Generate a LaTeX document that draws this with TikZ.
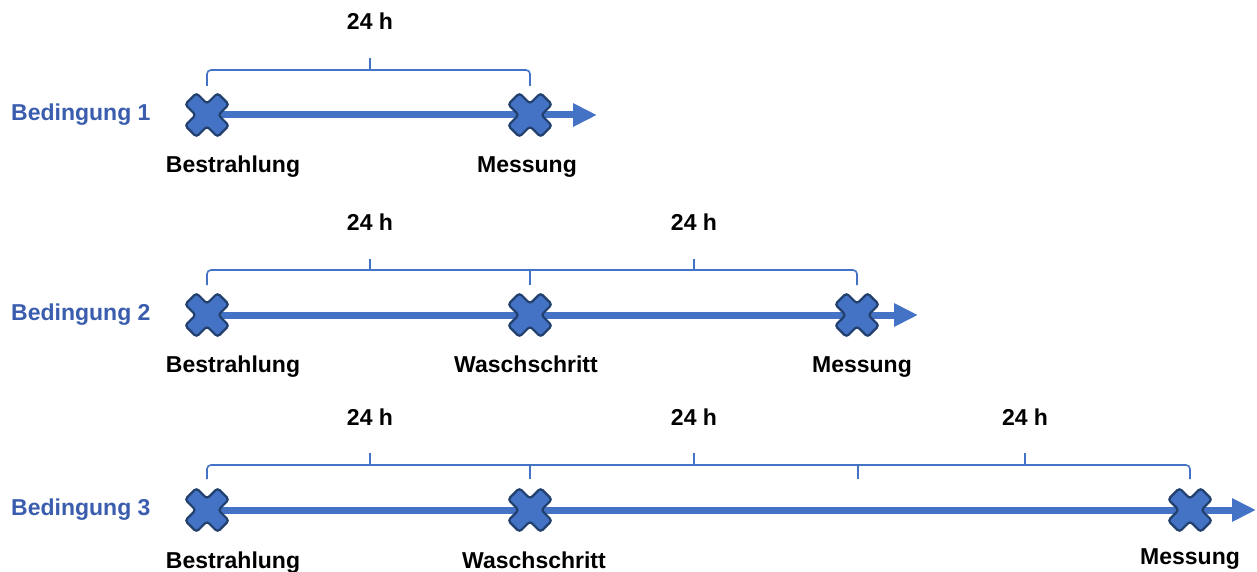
\documentclass[tikz,border=0pt]{standalone}
\usepackage{fontspec}
\setmainfont{Liberation Sans}
\usetikzlibrary{arrows.meta}
\definecolor{axisblue}{HTML}{4472C4}
\definecolor{xborder}{HTML}{22406E}
\definecolor{labblue}{HTML}{3A5DAE}
\tikzset{
 axisline/.style={draw=axisblue, line width=7pt, -{Triangle[length=24pt,width=22pt]}},
 bracket/.style={draw=axisblue, line width=1.6pt, rounded corners=4pt},
 midtick/.style={draw=axisblue, line width=1.6pt},
 lab/.style={font=\bfseries\fontsize{23}{27}\selectfont, text=black, anchor=base},
 cond/.style={font=\bfseries\fontsize{23}{27}\selectfont, text=labblue, anchor=west, inner sep=0pt},
 xmark/.pic={\filldraw[fill=axisblue, draw=xborder, line width=2.2pt, rounded corners=3pt, rotate=45]
   (-8,-23) -- (8,-23) -- (8,-8) -- (23,-8) -- (23,8) -- (8,8) -- (8,23) -- (-8,23) -- (-8,8) -- (-23,8) -- (-23,-8) -- (-8,-8) -- cycle;}
}
\begin{document}
\begin{tikzpicture}[x=1pt,y=-1pt]
\useasboundingbox (0,0) rectangle (1257,572);
% ---------------- Row 1
\node[cond] (c1) at (11,115) {Bedingung 1};
\coordinate (r1a) at (207,115);
\coordinate (r1b) at (530,115);
\coordinate (r1e) at (597,115);
\draw[axisline] (r1a) -- (r1e);
\pic at (r1a) {xmark};
\pic at (r1b) {xmark};
\node[lab] (l1a) at (233,172) {Bestrahlung};
\node[lab] (l1b) at (527,172) {Messung};
\draw[bracket] (207,86) -- (207,70) -- (530,70) -- (530,86);
\draw[midtick] (370,70) -- (370,58);
\node[lab] (h1a) at (370,30) {24 h};
% ---------------- Row 2
\node[cond] (c2) at (11,315) {Bedingung 2};
\coordinate (r2a) at (207,315);
\coordinate (r2b) at (530,315);
\coordinate (r2c) at (857,315);
\coordinate (r2e) at (918,315);
\draw[axisline] (r2a) -- (r2e);
\pic at (r2a) {xmark};
\pic at (r2b) {xmark};
\pic at (r2c) {xmark};
\node[lab] (l2a) at (233,372) {Bestrahlung};
\node[lab] (l2b) at (526,372) {Waschschritt};
\node[lab] (l2c) at (862,372) {Messung};
\draw[bracket] (207,285) -- (207,270) -- (857,270) -- (857,285);
\draw[midtick] (530,270) -- (530,285);
\draw[midtick] (370,270) -- (370,259);
\draw[midtick] (694,270) -- (694,259);
\node[lab] (h2a) at (370,230) {24 h};
\node[lab] (h2b) at (694,230) {24 h};
% ---------------- Row 3
\node[cond] (c3) at (11,510) {Bedingung 3};
\coordinate (r3a) at (207,510);
\coordinate (r3b) at (530,510);
\coordinate (r3c) at (1190,510);
\coordinate (r3e) at (1256,510);
\draw[axisline] (r3a) -- (r3e);
\pic at (r3a) {xmark};
\pic at (r3b) {xmark};
\pic at (r3c) {xmark};
\node[lab] (l3a) at (233,568) {Bestrahlung};
\node[lab] (l3b) at (534,568) {Waschschritt};
\node[lab] (l3c) at (1190,564) {Messung};
\draw[bracket] (207,479) -- (207,465) -- (1190,465) -- (1190,479);
\draw[midtick] (530,465) -- (530,479);
\draw[midtick] (858,465) -- (858,479);
\draw[midtick] (370,465) -- (370,453);
\draw[midtick] (694,465) -- (694,453);
\draw[midtick] (1025,465) -- (1025,453);
\node[lab] (h3a) at (370,425) {24 h};
\node[lab] (h3b) at (694,425) {24 h};
\node[lab] (h3c) at (1025,425) {24 h};
\end{tikzpicture}
\end{document}
